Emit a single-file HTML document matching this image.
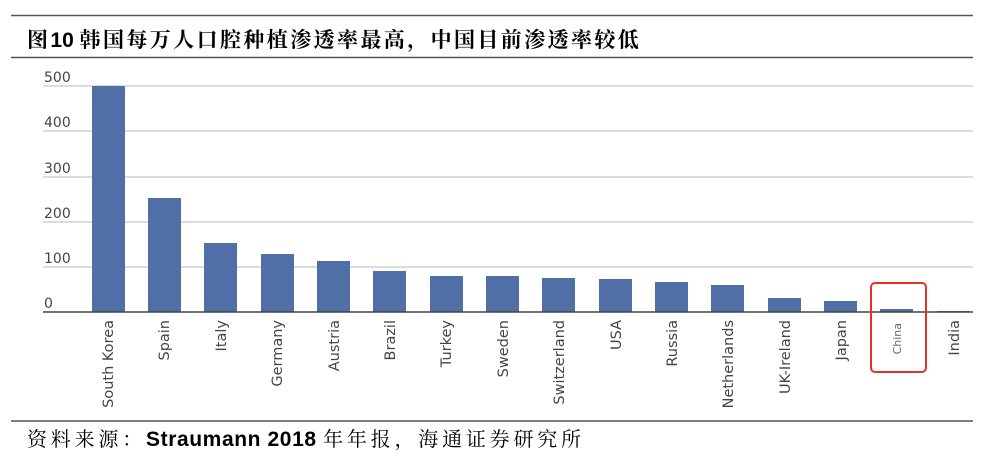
<!DOCTYPE html>
<html><head><meta charset="utf-8"><style>
body{margin:0;background:#fff;width:1000px;height:456px;overflow:hidden}
</style></head><body>
<svg width="1000" height="456" xmlns="http://www.w3.org/2000/svg">
<line x1="11" y1="15.5" x2="973" y2="15.5" stroke="#555" stroke-width="1.5"/>
<line x1="11" y1="57.5" x2="973" y2="57.5" stroke="#555" stroke-width="1.5"/>
<line x1="11" y1="421" x2="973" y2="421" stroke="#555" stroke-width="1.5"/>
<text x="27" y="47" font-family="'Noto Serif CJK SC','Liberation Sans',serif" font-size="21" font-weight="bold" letter-spacing="2.4" fill="#000">图<tspan font-family="'Liberation Sans',sans-serif" font-weight="bold" letter-spacing="0">10 </tspan>韩国每万人口腔种植渗透率最高，中国目前渗透率较低</text>
<text x="27" y="446" font-family="'Noto Serif CJK SC',serif" font-size="20" letter-spacing="3.8" fill="#000">资料来源：<tspan font-family="'Liberation Sans',sans-serif" font-weight="bold" font-size="21" letter-spacing="0.6">Straumann 2018 </tspan>年年报，海通证券研究所</text>
<g stroke="#d0d0d0" stroke-width="1.5">
<line x1="43" y1="86" x2="973" y2="86"/><line x1="43" y1="131" x2="973" y2="131"/>
<line x1="43" y1="177" x2="973" y2="177"/><line x1="43" y1="222" x2="973" y2="222"/>
<line x1="43" y1="267" x2="973" y2="267"/>
</g>
<g font-family="'DejaVu Sans','Liberation Sans',sans-serif" font-size="14" fill="#444">
<text x="44" y="82">500</text><text x="44" y="127">400</text><text x="44" y="173">300</text>
<text x="44" y="218">200</text><text x="44" y="263">100</text><text x="44" y="308">0</text>
</g>
<g fill="#4f6fa6">
<rect x="92" y="86" width="33" height="226"/>
<rect x="148" y="198" width="33" height="114"/>
<rect x="204" y="243" width="33" height="69"/>
<rect x="261" y="254" width="33" height="58"/>
<rect x="317" y="261" width="33" height="51"/>
<rect x="373" y="271" width="33" height="41"/>
<rect x="430" y="276" width="33" height="36"/>
<rect x="486" y="276" width="33" height="36"/>
<rect x="542" y="278" width="33" height="34"/>
<rect x="599" y="279" width="33" height="33"/>
<rect x="655" y="282" width="33" height="30"/>
<rect x="711" y="285" width="33" height="27"/>
<rect x="768" y="298" width="33" height="14"/>
<rect x="824" y="301" width="33" height="11"/>
<rect x="880" y="309" width="33" height="3"/>
<rect x="937" y="311" width="33" height="1"/>
</g>
<line x1="43" y1="312" x2="973" y2="312" stroke="#444" stroke-width="1.5"/>
<g font-family="'DejaVu Sans','Liberation Sans',sans-serif" font-size="14.5" fill="#444" text-anchor="end">
<text transform="translate(113,320) rotate(-90)">South Korea</text>
<text transform="translate(169,320) rotate(-90)">Spain</text>
<text transform="translate(226,320) rotate(-90)">Italy</text>
<text transform="translate(282,320) rotate(-90)">Germany</text>
<text transform="translate(339,320) rotate(-90)">Austria</text>
<text transform="translate(395,320) rotate(-90)">Brazil</text>
<text transform="translate(451,320) rotate(-90)">Turkey</text>
<text transform="translate(508,320) rotate(-90)">Sweden</text>
<text transform="translate(564,320) rotate(-90)">Switzerland</text>
<text transform="translate(621,320) rotate(-90)">USA</text>
<text transform="translate(677,320) rotate(-90)">Russia</text>
<text transform="translate(733,320) rotate(-90)">Netherlands</text>
<text transform="translate(790,320) rotate(-90)">UK-Ireland</text>
<text transform="translate(846,320) rotate(-90)">Japan</text>
<text transform="translate(901,323) rotate(-90)" font-size="11" fill="#666">China</text>
<text transform="translate(959,320) rotate(-90)">India</text>
</g>
<rect x="871" y="283" width="55" height="89" rx="4" fill="none" stroke="#e53323" stroke-width="2"/>
</svg>
</body></html>
